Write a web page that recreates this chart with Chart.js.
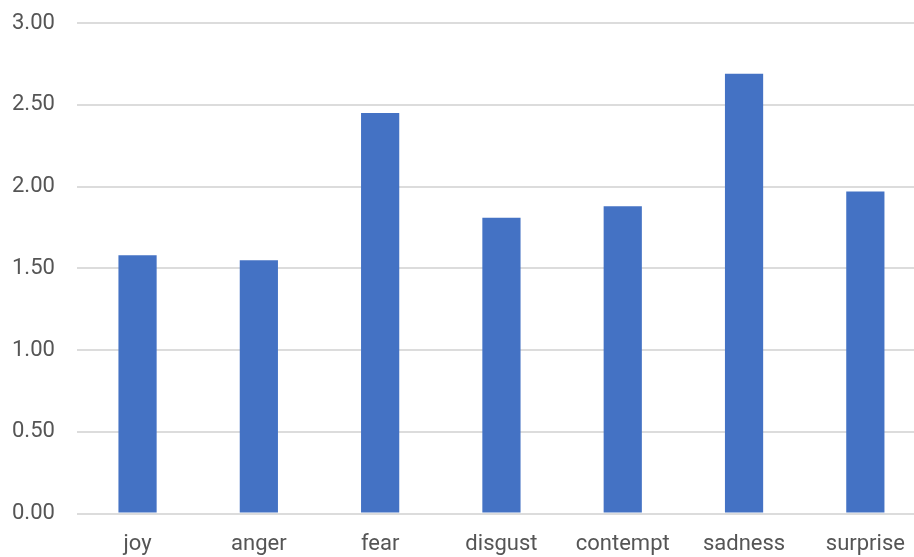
<!DOCTYPE html>
<html>
<head>
<meta charset="utf-8">
<script src="https://cdn.jsdelivr.net/npm/chart.js@4/dist/chart.umd.min.js"></script>
<style>
  html, body { margin: 0; padding: 0; background: #fff; overflow: hidden; }
  #wrap { position: relative; width: 914px; height: 557px; overflow: hidden; }
  #myChart { position: absolute; left: -4px; top: -12px; }
</style>
</head>
<body>
<div id="wrap"><canvas id="myChart" width="930" height="572"></canvas></div>
<script>
// emotion categories and their mean scores
var emotions = ['joy', 'anger', 'fear', 'disgust', 'contempt', 'sadness', 'surprise'];
var scores = [1.58, 1.55, 2.45, 1.81, 1.88, 2.69, 1.97];
var yTicks = [0, 0.5, 1, 1.5, 2, 2.5, 3];

var ctx = document.getElementById('myChart').getContext('2d');
var myChart = new Chart(ctx, {
    type: 'bar',
    data: {
        labels: emotions,
        datasets: [{
            data: scores,
            backgroundColor: '#4472c4',
            borderWidth: 0,
            categoryPercentage: 1,
            barPercentage: 0.315
        }]
    },
    options: {
        responsive: false,
        animation: false,
        layout: { padding: { left: -6, top: -6, right: 0, bottom: -8 } },
        plugins: {
            legend: { display: false },
            tooltip: { enabled: false }
        },
        scales: {
            x: {
                grid: { display: false },
                border: { display: false },
                ticks: {
                    color: '#555',
                    padding: 10,
                    maxRotation: 0,
                    font: { family: 'Roboto', size: 22 }
                }
            },
            y: {
                min: 0,
                max: 3,
                afterBuildTicks: function (axis) {
                    axis.ticks = yTicks.map(function (v) { return { value: v }; });
                },
                grid: { color: '#dcdcdc', lineWidth: 2, drawTicks: false },
                border: { display: false },
                ticks: {
                    color: '#555',
                    padding: 22,
                    font: { family: 'Roboto', size: 22 },
                    callback: function (v) { return Number(v).toFixed(2); }
                }
            }
        }
    }
});
</script>
</body>
</html>
